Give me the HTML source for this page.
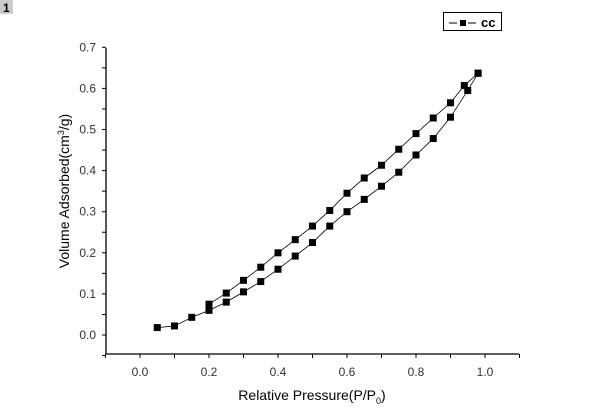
<!DOCTYPE html>
<html><head><meta charset="utf-8"><style>
body{margin:0;background:#fff}
svg{display:block;font-family:"Liberation Sans",Arial,sans-serif}
</style></head><body>
<svg width="600" height="417" viewBox="0 0 600 417">
<rect x="0" y="0" width="13" height="14" fill="#ccc"/>
<text x="3" y="12" font-size="12" font-weight="bold" fill="#000">1</text>
<g id="axes"></g>
<g id="series"></g>
<g>
<rect x="443.5" y="12.5" width="58" height="18" fill="#fff" stroke="#000"/>
<line x1="449" y1="23" x2="457" y2="23" stroke="#000"/>
<line x1="468" y1="23" x2="476" y2="23" stroke="#000"/>
<rect x="460" y="20" width="6" height="6" fill="#000"/>
<text x="481" y="27" font-size="13" font-weight="bold">cc</text>
</g>
<text x="312" y="400" font-size="14" text-anchor="middle">Relative Pressure(P/P<tspan font-size="9" dy="4">0</tspan><tspan dy="-4">)</tspan></text>
<text transform="translate(69,191) rotate(-90)" font-size="14" text-anchor="middle">Volume Adsorbed(cm<tspan font-size="9" dy="-5">3</tspan><tspan dy="5">/g)</tspan></text>
</svg>
<script>
const xTicks=[0.0,0.2,0.4,0.6,0.8,1.0];
const yTicks=[0.0,0.1,0.2,0.3,0.4,0.5,0.6,0.7];
const adsX=[0.05,0.1,0.15,0.2,0.25,0.3,0.35,0.4,0.45,0.5,0.55,0.6,0.65,0.7,0.75,0.8,0.85,0.9,0.95,0.98];
const adsY=[0.018,0.022,0.043,0.06,0.08,0.105,0.13,0.16,0.192,0.225,0.265,0.30,0.33,0.362,0.396,0.438,0.478,0.53,0.595,0.637];
const desX=[0.98,0.94,0.9,0.85,0.8,0.75,0.7,0.65,0.6,0.55,0.5,0.45,0.4,0.35,0.3,0.25,0.2];
const desY=[0.637,0.607,0.565,0.528,0.49,0.452,0.413,0.382,0.345,0.303,0.265,0.232,0.2,0.165,0.133,0.102,0.075];
const NS="http://www.w3.org/2000/svg";
const X0=140,XS=345,Y0=335,YS=411;
const sx=v=>X0+v*XS, sy=v=>Y0-v*YS;
const axL=106,axB=354,axR=519,axT=48;
function mk(t,a,p){const e=document.createElementNS(NS,t);for(const k in a)e.setAttribute(k,a[k]);p.appendChild(e);return e;}
const ax=document.getElementById('axes');
let l=mk('line',{x1:axL,y1:axB,x2:axR,y2:axB,stroke:'#000','stroke-width':1.3},ax);


l=mk('line',{x1:axL,y1:axB,x2:axL,y2:axT,stroke:'#000','stroke-width':1.3},ax);


for(let v=-0.1;v<=1.1001;v+=0.1){const x=sx(v);mk('line',{x1:x,y1:axB,x2:x,y2:axB+4,stroke:'#000'},ax);}
xTicks.forEach(v=>{const t=mk('text',{x:sx(v),y:376,'font-size':12,'text-anchor':'middle',fill:'#333'},ax);t.textContent=v.toFixed(1);

});
for(let v=-0.05;v<=0.7001;v+=0.05){const y=sy(v);mk('line',{x1:axL-4,y1:y,x2:axL,y2:y,stroke:'#000'},ax);}
yTicks.forEach(v=>{const t=mk('text',{x:96,y:sy(v)+4,'font-size':12,'text-anchor':'end',fill:'#333'},ax);t.textContent=v.toFixed(1);

});
const sg=document.getElementById('series');
function series(xs,ys,name){
 const pts=xs.map((x,i)=>sx(x)+','+sy(ys[i])).join(' ');
 const pl=mk('polyline',{points:pts,fill:'none',stroke:'#000','stroke-width':0.8},sg);
 
 
 xs.forEach((x,i)=>{const r=mk('rect',{x:sx(x)-3.5,y:sy(ys[i])-3.5,width:7,height:7,fill:'#000'},sg);
 
 });
}
series(adsX,adsY,'adsorption');
series(desX,desY,'desorption');
</script>
</body></html>
